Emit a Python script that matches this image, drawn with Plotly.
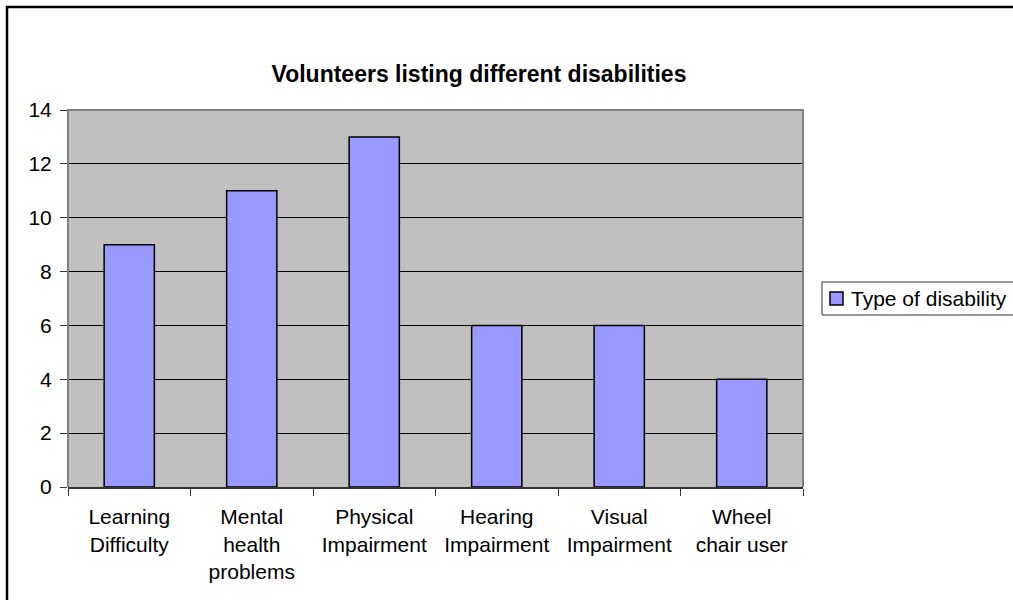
import plotly.graph_objects as go

categories = ["Learning<br>Difficulty", "Mental<br>health<br>problems", "Physical<br>Impairment",
              "Hearing<br>Impairment", "Visual<br>Impairment", "Wheel<br>chair user"]
counts = [9, 11, 13, 6, 6, 4]
series_name = "Type of disability"
y_ticks = [0, 2, 4, 6, 8, 10, 12, 14]

W, H = 1013, 600
L, R, T, B = 68, 803, 110, 487
pw, ph = R - L, B - T

def px_x(x):
    return (x - L) / pw

def px_y(y):
    return (B - y) / ph

BAR_COLOR = "#9999FF"
font = "Liberation Sans, Arial, sans-serif"

fig = go.Figure()
fig.add_trace(go.Bar(
    x=categories, y=counts, name=series_name,
    marker=dict(color=BAR_COLOR, line=dict(color="black", width=1.5)),
    showlegend=False,
))

fig.update_layout(
    width=W, height=H,
    margin=dict(l=L, r=W - R, t=T, b=H - B),
    paper_bgcolor="white",
    plot_bgcolor="#C0C0C0",
    bargap=0.59,
    font=dict(family=font, size=21, color="black"),
    title=dict(text="<b>Volunteers listing different disabilities</b>",
               x=479 / W, xanchor="center",
               y=1 - 74 / H, yanchor="middle",
               font=dict(size=23, family=font, color="black")),
    xaxis=dict(type="category", tickson="boundaries", ticks="outside",
               ticklen=7, tickcolor="#333333", showline=True,
               linecolor="#333333", linewidth=2, showgrid=False,
               tickfont=dict(size=21), ticklabelstandoff=10, fixedrange=True),
    yaxis=dict(range=[0, 14], tickvals=y_ticks, ticks="outside", ticklen=7,
               tickcolor="#333333", showgrid=True, gridcolor="black",
               gridwidth=1, zeroline=False, showline=False,
               tickfont=dict(size=21), ticklabelstandoff=4, fixedrange=True),
)

# plot-area frame (left, top, right in gray)
fig.add_shape(type="path", xref="paper", yref="paper",
              path="M 0 0 L 0 1 L 1 1 L 1 0",
              line=dict(color="#808080", width=2), layer="above")
# outer chart frame running off the right and bottom edges
fig.add_shape(type="path", xref="paper", yref="paper",
              path=f"M {px_x(7)} {px_y(640)} L {px_x(7)} {px_y(7)} L {px_x(1060)} {px_y(7)}",
              line=dict(color="black", width=2.5), layer="above")

# legend box with swatch and series name
fig.add_shape(type="rect", xref="paper", yref="paper",
              x0=px_x(822), x1=px_x(1040), y0=px_y(315), y1=px_y(282),
              line=dict(color="#333333", width=1), fillcolor="white", layer="above")
fig.add_shape(type="rect", xref="paper", yref="paper",
              x0=px_x(830), x1=px_x(843), y0=px_y(305), y1=px_y(292),
              line=dict(color="black", width=1.5), fillcolor=BAR_COLOR, layer="above")
fig.add_annotation(xref="paper", yref="paper", x=px_x(849), y=px_y(298.5),
                   xanchor="left", yanchor="middle", showarrow=False,
                   text=series_name, font=dict(size=21, family=font, color="black"))

fig.write_html("out.html")
